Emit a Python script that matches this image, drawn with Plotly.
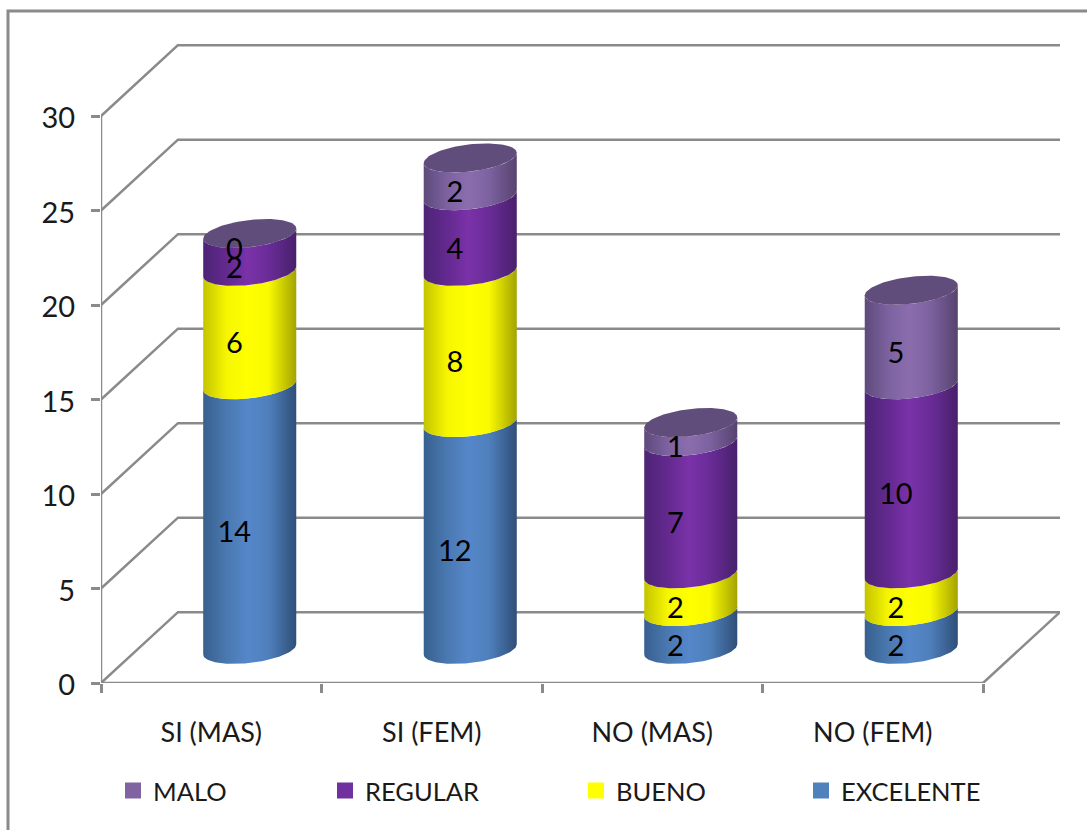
import numpy as np
import plotly.graph_objects as go

categories = ["SI (MAS)", "SI (FEM)", "NO (MAS)", "NO (FEM)"]
excelente = [14, 12, 2, 2]
bueno = [6, 8, 2, 2]
regular = [2, 4, 7, 10]
malo = [0, 2, 1, 5]
y_ticks = [0, 5, 10, 15, 20, 25, 30]

FONT = "Lato"
GREY = "#8a8a8a"

# Oblique depth of the box, in axis units, and cylinder proportions
DEPTH_X, DEPTH_Y = 0.349, 3.75
RADIUS_X, RADIUS_Y, TILT = 0.211, 0.72, 0.27
X_MAX, Y_MAX = 4 + DEPTH_X, 33.81

series = [
    dict(name="EXCELENTE", values=excelente, color="#4F81BD",
         shade=["#37608f", "#4a78b0", "#5587c9", "#4f80bc", "#2f4f78"], cap="#3f6796"),
    dict(name="BUENO", values=bueno, color="#FFFF00",
         shade=["#c4c400", "#f6f600", "#ffff00", "#fafa00", "#a3a300"], cap="#cccc00"),
    dict(name="REGULAR", values=regular, color="#7030A0",
         shade=["#4c2475", "#63298f", "#7a32a8", "#6a2c98", "#48206c"], cap="#5a2680"),
    dict(name="MALO", values=malo, color="#8064A2",
         shade=["#5d4a7a", "#7c62a0", "#8b6dad", "#7d62a0", "#57436f"], cap="#614d7b"),
]

angle = np.linspace(0, np.pi, 61)


def front_arc(cx, level):
    """Front half of a tilted ellipse, from the left edge to the right edge."""
    xs = cx - RADIUS_X * np.cos(angle)
    ys = level - TILT * np.cos(angle) - RADIUS_Y * np.sin(angle)
    return xs, ys


fig = go.Figure()

# Back wall, side wall and floor lines of the box
wall_x, wall_y = [], []
for tick in y_ticks:
    wall_x += [0, DEPTH_X, 4 + DEPTH_X, None]
    wall_y += [tick, tick + DEPTH_Y, tick + DEPTH_Y, None]
wall_x += [4, 4 + DEPTH_X, None, 0, 4, None, 0, 0]
wall_y += [0, DEPTH_Y, None, 0, 0, None, 0, y_ticks[-1]]
fig.add_trace(go.Scatter(x=wall_x, y=wall_y, mode="lines", cliponaxis=False,
                         line=dict(color=GREY, width=2.5), hoverinfo="skip", showlegend=False))

# Stacked cylinders
base_level = 1.78
for i in range(len(categories)):
    cx = i + 0.5 + DEPTH_X / 2
    running = 0
    for s in series:
        value = s["values"][i]
        low = base_level + running
        high = low + value
        running += value
        if value > 0:
            bx, by = front_arc(cx, low)
            tx, ty = front_arc(cx, high)
            stops = [0, 0.25, 0.48, 0.7, 1]
            fig.add_trace(go.Scatter(
                x=np.concatenate([bx, tx[::-1]]), y=np.concatenate([by, ty[::-1]]),
                mode="lines", line=dict(width=0), fill="toself",
                fillgradient=dict(type="horizontal", start=cx - RADIUS_X, stop=cx + RADIUS_X,
                                  colorscale=list(zip(stops, s["shade"]))),
                hoverinfo="skip", showlegend=False))
    # Flat lid in the colour of the last series of the stack
    t = np.linspace(0, 2 * np.pi, 121)
    top = base_level + running
    fig.add_trace(go.Scatter(
        x=cx - RADIUS_X * np.cos(t),
        y=top - TILT * np.cos(t) - RADIUS_Y * np.sin(t),
        mode="lines", line=dict(width=0), fill="toself", fillcolor=series[-1]["cap"],
        hoverinfo="skip", showlegend=False))

# Value labels sit on the front face of each segment
label_x, label_y, label_text = [], [], []
for s_index, s in enumerate(series):
    for i, value in enumerate(s["values"]):
        below = sum(series[k]["values"][i] for k in range(s_index))
        label_x.append(i + 0.5 + DEPTH_X / 2 - 0.07)
        label_y.append(base_level + below + value / 2 - 0.95)
        label_text.append(str(value))
fig.add_trace(go.Scatter(x=label_x, y=label_y, text=label_text, mode="text",
                         textposition="middle center", cliponaxis=False,
                         textfont=dict(family=FONT, size=29, color="#000000"),
                         hoverinfo="skip", showlegend=False))

# One legend per entry so each can sit at its own position
legend_layout = {}
legend_left_px = [113, 325, 576, 801]
for n, s in enumerate(reversed(series)):
    key = "legend" if n == 0 else f"legend{n + 1}"
    fig.add_trace(go.Scatter(x=[None], y=[None], mode="markers", name=s["name"], legend=key,
                             marker=dict(symbol="square", size=16, color=s["color"])))
    legend_layout[key] = dict(
        x=(legend_left_px[n] - 101) / 959, y=(683 - 791) / 639,
        xanchor="left", yanchor="middle", bgcolor="rgba(0,0,0,0)",
        font=dict(family=FONT, size=25.5, color="#1a1a1a"),
        itemclick=False, itemdoubleclick=False,
    )

fig.update_layout(
    width=1087, height=830,
    margin=dict(l=101, r=27, t=44, b=147),
    paper_bgcolor="#ffffff", plot_bgcolor="#ffffff",
    xaxis=dict(
        range=[0, X_MAX], showgrid=False, zeroline=False, showline=False,
        tickmode="array", tickvals=[i + 0.5 for i in range(len(categories))],
        ticktext=categories, ticks="", ticklabelstandoff=31,
        tickfont=dict(family=FONT, size=27, color="#1a1a1a"),
        minor=dict(tick0=0, dtick=1, ticks="outside", ticklen=9, tickwidth=2.5, tickcolor=GREY, showgrid=False),
    ),
    yaxis=dict(
        range=[0, Y_MAX], showgrid=False, zeroline=False, showline=False,
        tickmode="array", tickvals=y_ticks, ticks="outside", ticklen=9, tickwidth=2.5, tickcolor=GREY,
        ticklabelstandoff=10, ticklabelshift=2, tickfont=dict(family=FONT, size=29, color="#1a1a1a"),
    ),
    shapes=[dict(type="rect", xref="paper", yref="paper", layer="below",
                 x0=(8 - 101) / 959, x1=(1200 - 101) / 959,
                 y0=(683 - 900) / 639, y1=(683 - 11) / 639,
                 line=dict(color=GREY, width=3))],
    **legend_layout,
)

fig.write_html("out.html")
